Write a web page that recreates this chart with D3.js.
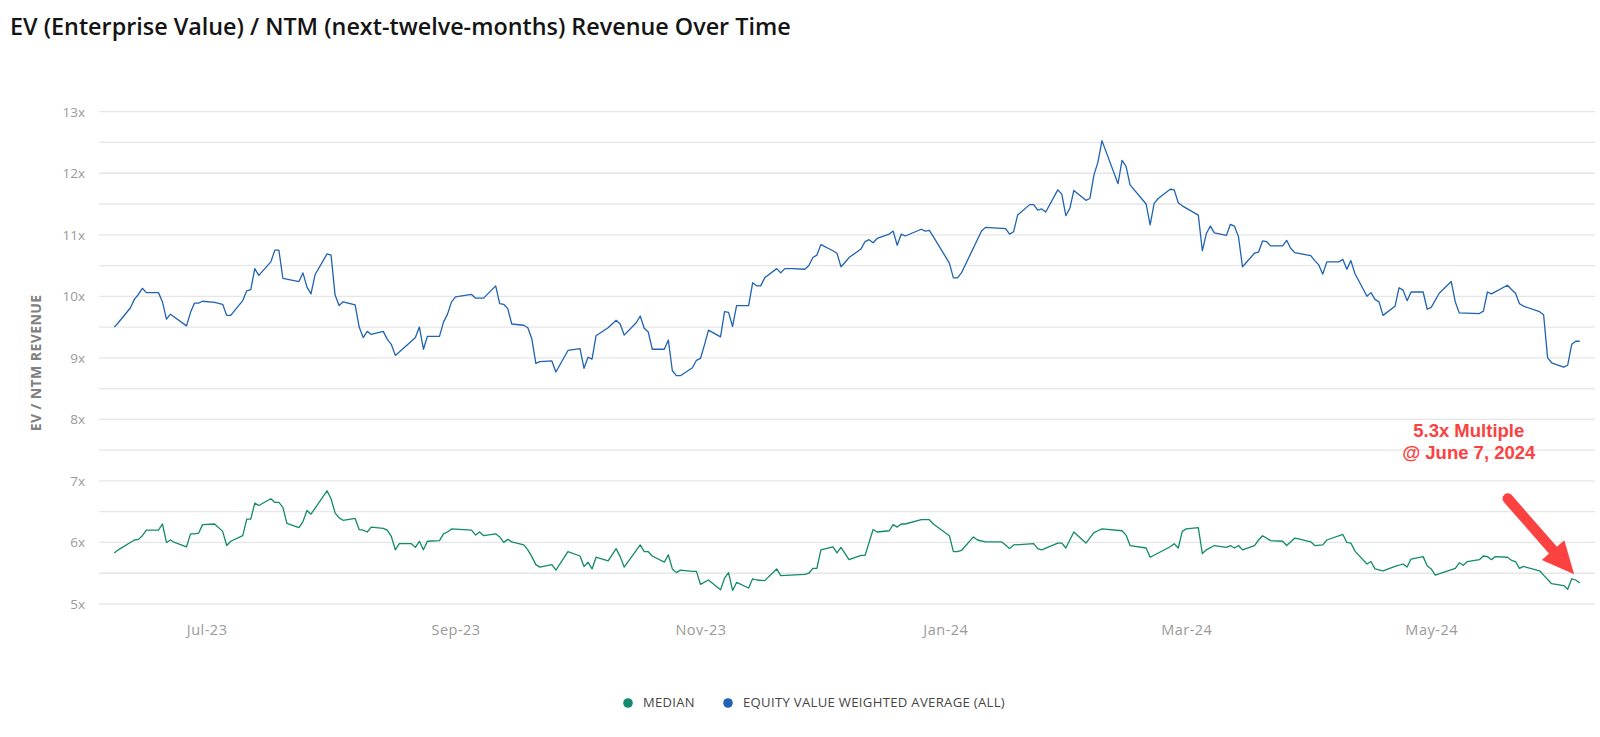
<!DOCTYPE html>
<html>
<head>
<meta charset="utf-8">
<script src="https://cdn.jsdelivr.net/npm/d3@7"></script>
<style>
  html, body { margin: 0; padding: 0; background: #fff; }
  svg { display: block; font-family: 'Open Sans', 'DejaVu Sans', sans-serif; }
</style>
</head>
<body>
<div id="chart"></div>
<script>
const TITLE = 'EV (Enterprise Value) / NTM (next-twelve-months) Revenue Over Time';
const Y_LABEL = 'EV / NTM REVENUE';
const LEGEND = ['MEDIAN', 'EQUITY VALUE WEIGHTED AVERAGE (ALL)'];
const NOTE = ['5.3x Multiple', '@ June 7, 2024'];
const Y_TICKS = [5, 6, 7, 8, 9, 10, 11, 12, 13];

// equity value weighted average (all)
const weighted = [
  ['2023-06-08', 9.50], ['2023-06-09', 9.57], ['2023-06-12', 9.81], ['2023-06-13', 9.95],
  ['2023-06-14', 10.03], ['2023-06-15', 10.13], ['2023-06-16', 10.06], ['2023-06-19', 10.06],
  ['2023-06-20', 9.91], ['2023-06-21', 9.63], ['2023-06-22', 9.71], ['2023-06-26', 9.52],
  ['2023-06-27', 9.74], ['2023-06-28', 9.89], ['2023-06-29', 9.89], ['2023-06-30', 9.92],
  ['2023-07-03', 9.90], ['2023-07-05', 9.87], ['2023-07-06', 9.69], ['2023-07-07', 9.69],
  ['2023-07-10', 9.93], ['2023-07-11', 10.09], ['2023-07-12', 10.11], ['2023-07-13', 10.45],
  ['2023-07-14', 10.34], ['2023-07-17', 10.56], ['2023-07-18', 10.75], ['2023-07-19', 10.75],
  ['2023-07-20', 10.29], ['2023-07-24', 10.24], ['2023-07-25', 10.38], ['2023-07-26', 10.15],
  ['2023-07-27', 10.04], ['2023-07-28', 10.35], ['2023-07-31', 10.69], ['2023-08-01', 10.67],
  ['2023-08-02', 10.02], ['2023-08-03', 9.85], ['2023-08-04', 9.91], ['2023-08-07', 9.86],
  ['2023-08-08', 9.50], ['2023-08-09', 9.33], ['2023-08-10', 9.43], ['2023-08-11', 9.38],
  ['2023-08-14', 9.43], ['2023-08-15', 9.30], ['2023-08-16', 9.22], ['2023-08-17', 9.04],
  ['2023-08-21', 9.27], ['2023-08-22', 9.33], ['2023-08-23', 9.50], ['2023-08-24', 9.14],
  ['2023-08-25', 9.35], ['2023-08-28', 9.35], ['2023-08-29', 9.58], ['2023-08-30', 9.71],
  ['2023-08-31', 9.91], ['2023-09-01', 9.99], ['2023-09-05', 10.03], ['2023-09-06', 9.97],
  ['2023-09-08', 9.97], ['2023-09-11', 10.17], ['2023-09-12', 9.88], ['2023-09-13', 9.87],
  ['2023-09-14', 9.80], ['2023-09-15', 9.55], ['2023-09-18', 9.53], ['2023-09-19', 9.49],
  ['2023-09-20', 9.31], ['2023-09-21', 8.91], ['2023-09-22', 8.94], ['2023-09-25', 8.95],
  ['2023-09-26', 8.77], ['2023-09-29', 9.12], ['2023-10-02', 9.15], ['2023-10-03', 8.83],
  ['2023-10-04', 9.01], ['2023-10-05', 8.98], ['2023-10-06', 9.36], ['2023-10-09', 9.49],
  ['2023-10-11', 9.61], ['2023-10-12', 9.55], ['2023-10-13', 9.37], ['2023-10-16', 9.57],
  ['2023-10-17', 9.68], ['2023-10-18', 9.48], ['2023-10-19', 9.42], ['2023-10-20', 9.14],
  ['2023-10-23', 9.14], ['2023-10-24', 9.29], ['2023-10-25', 8.79], ['2023-10-26', 8.71],
  ['2023-10-27', 8.71], ['2023-10-30', 8.84], ['2023-10-31', 8.96], ['2023-11-01', 8.99],
  ['2023-11-02', 9.21], ['2023-11-03', 9.45], ['2023-11-06', 9.34], ['2023-11-07', 9.75],
  ['2023-11-08', 9.74], ['2023-11-09', 9.51], ['2023-11-10', 9.85], ['2023-11-13', 9.85],
  ['2023-11-14', 10.22], ['2023-11-15', 10.17], ['2023-11-16', 10.17], ['2023-11-17', 10.30],
  ['2023-11-20', 10.45], ['2023-11-21', 10.38], ['2023-11-22', 10.45], ['2023-11-24', 10.45],
  ['2023-11-27', 10.44], ['2023-11-28', 10.50], ['2023-11-29', 10.63], ['2023-11-30', 10.67],
  ['2023-12-01', 10.84], ['2023-12-04', 10.74], ['2023-12-05', 10.70], ['2023-12-06', 10.48],
  ['2023-12-07', 10.55], ['2023-12-08', 10.63], ['2023-12-11', 10.77], ['2023-12-12', 10.89],
  ['2023-12-13', 10.92], ['2023-12-14', 10.87], ['2023-12-15', 10.94], ['2023-12-18', 11.01],
  ['2023-12-19', 11.06], ['2023-12-20', 10.83], ['2023-12-21', 11.01], ['2023-12-22', 10.98],
  ['2023-12-26', 11.09], ['2023-12-27', 11.06], ['2023-12-28', 11.07], ['2023-12-29', 10.97],
  ['2024-01-02', 10.54], ['2024-01-03', 10.30], ['2024-01-04', 10.30], ['2024-01-05', 10.38],
  ['2024-01-10', 11.06], ['2024-01-11', 11.12], ['2024-01-16', 11.10], ['2024-01-17', 11.01],
  ['2024-01-18', 11.05], ['2024-01-19', 11.32], ['2024-01-22', 11.49], ['2024-01-23', 11.49],
  ['2024-01-24', 11.40], ['2024-01-25', 11.42], ['2024-01-26', 11.37], ['2024-01-29', 11.73],
  ['2024-01-30', 11.66], ['2024-01-31', 11.31], ['2024-02-01', 11.43], ['2024-02-02', 11.72],
  ['2024-02-05', 11.56], ['2024-02-06', 11.59], ['2024-02-07', 11.97], ['2024-02-08', 12.18],
  ['2024-02-09', 12.53], ['2024-02-13', 11.83], ['2024-02-14', 12.21], ['2024-02-15', 12.11],
  ['2024-02-16', 11.81], ['2024-02-20', 11.50], ['2024-02-21', 11.16], ['2024-02-22', 11.51],
  ['2024-02-23', 11.59], ['2024-02-26', 11.74], ['2024-02-27', 11.73], ['2024-02-28', 11.52],
  ['2024-02-29', 11.47], ['2024-03-04', 11.32], ['2024-03-05', 10.74], ['2024-03-06', 11.02],
  ['2024-03-07', 11.14], ['2024-03-08', 11.03], ['2024-03-11', 10.99], ['2024-03-12', 11.17],
  ['2024-03-13', 11.14], ['2024-03-14', 10.97], ['2024-03-15', 10.48], ['2024-03-18', 10.70],
  ['2024-03-19', 10.72], ['2024-03-20', 10.90], ['2024-03-21', 10.89], ['2024-03-22', 10.82],
  ['2024-03-25', 10.82], ['2024-03-26', 10.91], ['2024-03-27', 10.78], ['2024-03-28', 10.71],
  ['2024-04-01', 10.66], ['2024-04-02', 10.58], ['2024-04-03', 10.51], ['2024-04-04', 10.36],
  ['2024-04-05', 10.56], ['2024-04-08', 10.56], ['2024-04-09', 10.60], ['2024-04-10', 10.44],
  ['2024-04-11', 10.58], ['2024-04-12', 10.37], ['2024-04-15', 10.00], ['2024-04-16', 10.06],
  ['2024-04-17', 9.95], ['2024-04-18', 9.91], ['2024-04-19', 9.69], ['2024-04-22', 9.84],
  ['2024-04-23', 10.14], ['2024-04-24', 10.10], ['2024-04-25', 9.93], ['2024-04-26', 10.07],
  ['2024-04-29', 10.07], ['2024-04-30', 9.79], ['2024-05-01', 9.82], ['2024-05-03', 10.05],
  ['2024-05-06', 10.24], ['2024-05-07', 9.91], ['2024-05-08', 9.73], ['2024-05-13', 9.72],
  ['2024-05-14', 9.76], ['2024-05-15', 10.07], ['2024-05-16', 10.04], ['2024-05-20', 10.18],
  ['2024-05-21', 10.11], ['2024-05-22', 10.05], ['2024-05-23', 9.88], ['2024-05-24', 9.84],
  ['2024-05-28', 9.75], ['2024-05-29', 9.70], ['2024-05-30', 9.00], ['2024-05-31', 8.92],
  ['2024-06-03', 8.85], ['2024-06-04', 8.88], ['2024-06-05', 9.22], ['2024-06-06', 9.27],
  ['2024-06-07', 9.27]
];

// median
const median = [
  ['2023-06-08', 5.83], ['2023-06-09', 5.88], ['2023-06-12', 6.00], ['2023-06-13', 6.04],
  ['2023-06-14', 6.05], ['2023-06-15', 6.11], ['2023-06-16', 6.20], ['2023-06-19', 6.20],
  ['2023-06-20', 6.30], ['2023-06-21', 6.00], ['2023-06-22', 6.04], ['2023-06-23', 6.00],
  ['2023-06-26', 5.93], ['2023-06-27', 6.14], ['2023-06-28', 6.14], ['2023-06-29', 6.15],
  ['2023-06-30', 6.29], ['2023-07-03', 6.30], ['2023-07-05', 6.18], ['2023-07-06', 5.95],
  ['2023-07-07', 6.02], ['2023-07-10', 6.11], ['2023-07-11', 6.38], ['2023-07-12', 6.38],
  ['2023-07-13', 6.64], ['2023-07-14', 6.60], ['2023-07-17', 6.71], ['2023-07-18', 6.65],
  ['2023-07-19', 6.65], ['2023-07-20', 6.57], ['2023-07-21', 6.31], ['2023-07-24', 6.24],
  ['2023-07-25', 6.34], ['2023-07-26', 6.52], ['2023-07-27', 6.46], ['2023-07-31', 6.84],
  ['2023-08-01', 6.71], ['2023-08-02', 6.48], ['2023-08-03', 6.40], ['2023-08-04', 6.36],
  ['2023-08-07', 6.39], ['2023-08-08', 6.21], ['2023-08-09', 6.20], ['2023-08-10', 6.17],
  ['2023-08-11', 6.25], ['2023-08-14', 6.23], ['2023-08-15', 6.20], ['2023-08-16', 6.10],
  ['2023-08-17', 5.88], ['2023-08-18', 5.98], ['2023-08-21', 5.98], ['2023-08-22', 5.92],
  ['2023-08-23', 6.02], ['2023-08-24', 5.88], ['2023-08-25', 6.02], ['2023-08-28', 6.03],
  ['2023-08-29', 6.14], ['2023-08-30', 6.17], ['2023-08-31', 6.22], ['2023-09-05', 6.20],
  ['2023-09-06', 6.12], ['2023-09-07', 6.17], ['2023-09-08', 6.11], ['2023-09-11', 6.14],
  ['2023-09-12', 6.09], ['2023-09-13', 6.00], ['2023-09-14', 6.05], ['2023-09-15', 6.01],
  ['2023-09-18', 5.96], ['2023-09-19', 5.88], ['2023-09-20', 5.77], ['2023-09-21', 5.64],
  ['2023-09-22', 5.60], ['2023-09-25', 5.64], ['2023-09-26', 5.55], ['2023-09-29', 5.85],
  ['2023-10-02', 5.78], ['2023-10-03', 5.61], ['2023-10-04', 5.68], ['2023-10-05', 5.57],
  ['2023-10-06', 5.76], ['2023-10-09', 5.70], ['2023-10-11', 5.90], ['2023-10-12', 5.77],
  ['2023-10-13', 5.60], ['2023-10-17', 5.96], ['2023-10-18', 5.85], ['2023-10-19', 5.85],
  ['2023-10-20', 5.78], ['2023-10-23', 5.68], ['2023-10-24', 5.80], ['2023-10-25', 5.57],
  ['2023-10-26', 5.51], ['2023-10-27', 5.55], ['2023-10-30', 5.53], ['2023-10-31', 5.53],
  ['2023-11-01', 5.32], ['2023-11-03', 5.39], ['2023-11-06', 5.23], ['2023-11-07', 5.42],
  ['2023-11-08', 5.51], ['2023-11-09', 5.22], ['2023-11-10', 5.35], ['2023-11-13', 5.26],
  ['2023-11-14', 5.41], ['2023-11-15', 5.39], ['2023-11-17', 5.38], ['2023-11-20', 5.57],
  ['2023-11-21', 5.46], ['2023-11-27', 5.48], ['2023-11-28', 5.50], ['2023-11-29', 5.58],
  ['2023-11-30', 5.58], ['2023-12-01', 5.88], ['2023-12-04', 5.93], ['2023-12-05', 5.83],
  ['2023-12-06', 5.92], ['2023-12-08', 5.72], ['2023-12-11', 5.79], ['2023-12-12', 5.79],
  ['2023-12-14', 6.21], ['2023-12-15', 6.17], ['2023-12-18', 6.19], ['2023-12-19', 6.29],
  ['2023-12-20', 6.25], ['2023-12-21', 6.30], ['2023-12-22', 6.30], ['2023-12-26', 6.37],
  ['2023-12-28', 6.37], ['2023-12-29', 6.30], ['2024-01-02', 6.11], ['2024-01-03', 5.85],
  ['2024-01-04', 5.85], ['2024-01-05', 5.87], ['2024-01-08', 6.09], ['2024-01-09', 6.04],
  ['2024-01-11', 6.01], ['2024-01-15', 6.01], ['2024-01-17', 5.90], ['2024-01-18', 5.96],
  ['2024-01-23', 5.98], ['2024-01-24', 5.90], ['2024-01-25', 5.88], ['2024-01-29', 5.99],
  ['2024-01-30', 5.99], ['2024-01-31', 5.91], ['2024-02-02', 6.17], ['2024-02-05', 5.99],
  ['2024-02-07', 6.16], ['2024-02-08', 6.19], ['2024-02-09', 6.22], ['2024-02-14', 6.19],
  ['2024-02-15', 6.12], ['2024-02-16', 5.95], ['2024-02-20', 5.91], ['2024-02-21', 5.76],
  ['2024-02-26', 5.93], ['2024-02-27', 5.98], ['2024-02-28', 5.91], ['2024-02-29', 6.18],
  ['2024-03-01', 6.22], ['2024-03-04', 6.24], ['2024-03-05', 5.82], ['2024-03-06', 5.88],
  ['2024-03-08', 5.95], ['2024-03-11', 5.92], ['2024-03-12', 5.95], ['2024-03-13', 5.91],
  ['2024-03-14', 5.95], ['2024-03-15', 5.88], ['2024-03-18', 5.95], ['2024-03-19', 6.04],
  ['2024-03-20', 6.11], ['2024-03-22', 6.03], ['2024-03-25', 6.02], ['2024-03-26', 5.95],
  ['2024-03-28', 6.07], ['2024-03-29', 6.06], ['2024-04-01', 6.01], ['2024-04-02', 5.95],
  ['2024-04-04', 5.96], ['2024-04-05', 6.04], ['2024-04-09', 6.13], ['2024-04-10', 6.00],
  ['2024-04-11', 5.99], ['2024-04-12', 5.86], ['2024-04-15', 5.65], ['2024-04-16', 5.69],
  ['2024-04-17', 5.57], ['2024-04-19', 5.54], ['2024-04-22', 5.61], ['2024-04-24', 5.65],
  ['2024-04-25', 5.60], ['2024-04-26', 5.73], ['2024-04-29', 5.77], ['2024-04-30', 5.62],
  ['2024-05-01', 5.57], ['2024-05-02', 5.47], ['2024-05-07', 5.58], ['2024-05-08', 5.67],
  ['2024-05-09', 5.63], ['2024-05-10', 5.69], ['2024-05-13', 5.72], ['2024-05-14', 5.78],
  ['2024-05-15', 5.77], ['2024-05-16', 5.72], ['2024-05-17', 5.77], ['2024-05-20', 5.76],
  ['2024-05-21', 5.71], ['2024-05-22', 5.69], ['2024-05-23', 5.58], ['2024-05-24', 5.61],
  ['2024-05-28', 5.54], ['2024-05-29', 5.47], ['2024-05-31', 5.33], ['2024-06-03', 5.30],
  ['2024-06-04', 5.24], ['2024-06-05', 5.41], ['2024-06-06', 5.39], ['2024-06-07', 5.34]
];

const COLORS = { median: '#128a6b', weighted: '#1f63b2' };

const width = 1600;
const height = 737;
const margin = { top: 111.7, right: 5, bottom: 133, left: 99 };

const parse = d3.utcParse('%Y-%m-%d');
const toPoints = (rows) => rows.map(([d, v]) => ({ date: parse(d), value: v }));
const medianPts = toPoints(median);
const weightedPts = toPoints(weighted);

const dayMs = 864e5;
const [first, last] = d3.extent(medianPts.concat(weightedPts), (d) => d.date);
const x = d3.scaleUtc()
  .domain([new Date(+first - 3.8 * dayMs), new Date(+last + 3.8 * dayMs)])
  .range([margin.left, width - margin.right]);
const y = d3.scaleLinear()
  .domain([5, 13])
  .range([height - margin.bottom, margin.top]);

const svg = d3.select('#chart')
  .append('svg')
  .attr('width', width)
  .attr('height', height)
  .attr('viewBox', `0 0 ${width} ${height}`);

// scale a text's font size so it spans the given width
function fitWidth(sel, size, target) {
  sel.attr('font-size', size);
  const w = sel.node().getComputedTextLength();
  sel.attr('font-size', size * target / w);
}

const title = svg.append('text')
  .attr('x', 10)
  .attr('y', 35)
  .attr('fill', '#141414')
  .attr('font-weight', 600)
  .text(TITLE);
fitWidth(title, 19, 781);

// grid every half multiple
const gridVals = d3.range(5, 13.01, 0.5);
svg.append('g')
  .selectAll('line')
  .data(gridVals)
  .join('line')
  .attr('x1', margin.left)
  .attr('x2', width - margin.right)
  .attr('y1', (d) => y(d))
  .attr('y2', (d) => y(d))
  .attr('stroke', '#e6e6e6')
  .attr('stroke-width', 1.3);

// y axis
const yAxis = svg.append('g')
  .attr('transform', 'translate(87,0)')
  .call(d3.axisLeft(y).tickValues(Y_TICKS).tickSize(0).tickPadding(2).tickFormat((d) => `${d}x`));
yAxis.select('.domain').remove();
yAxis.selectAll('text')
  .attr('fill', '#9a9a9a')
  .attr('font-size', 13.5)
  .attr('font-family', "'Open Sans', sans-serif")
  .attr('font-weight', 400);

// x axis
const xAxis = svg.append('g')
  .attr('transform', `translate(0,${y(5) + 18})`)
  .call(d3.axisBottom(x).ticks(d3.utcMonth.every(2)).tickSize(0).tickFormat(d3.utcFormat('%b-%y')));
xAxis.select('.domain').remove();
xAxis.selectAll('text')
  .attr('fill', '#9a9a9a')
  .attr('font-size', 14.5)
  .attr('letter-spacing', 0.5)
  .attr('font-family', "'Open Sans', sans-serif");

const yLabel = svg.append('text')
  .attr('transform', `translate(41,${(y(5) + y(13)) / 2 + 5}) rotate(-90)`)
  .attr('text-anchor', 'middle')
  .attr('fill', '#808080')
  .attr('font-weight', 700)
  .attr('letter-spacing', 0.4)
  .text(Y_LABEL);
fitWidth(yLabel, 12.5, 138);

// series
const line = d3.line()
  .x((d) => x(d.date))
  .y((d) => y(d.value));

svg.append('path')
  .datum(weightedPts)
  .attr('fill', 'none')
  .attr('stroke', COLORS.weighted)
  .attr('stroke-width', 1.3)
  .attr('stroke-linejoin', 'round')
  .attr('d', line);

svg.append('path')
  .datum(medianPts)
  .attr('fill', 'none')
  .attr('stroke', COLORS.median)
  .attr('stroke-width', 1.3)
  .attr('stroke-linejoin', 'round')
  .attr('d', line);

// legend
const legend = svg.append('g').attr('transform', 'translate(628,703)');
const legendItems = [
  { label: LEGEND[0], color: COLORS.median, dx: 0, w: 52 },
  { label: LEGEND[1], color: COLORS.weighted, dx: 100, w: 264 }
];
const li = legend.selectAll('g')
  .data(legendItems)
  .join('g')
  .attr('transform', (d) => `translate(${d.dx},0)`);
li.append('circle').attr('r', 4.8).attr('fill', (d) => d.color);
li.append('text')
  .attr('x', 15)
  .attr('y', 4.4)
  .attr('fill', '#454545')
  .attr('font-weight', 500)
  .attr('letter-spacing', 0.3)
  .text((d) => d.label)
  .each(function (d) { fitWidth(d3.select(this), 11.5, d.w); });

// annotation pointing at the last median value
const lastPt = medianPts[medianPts.length - 1];
const px = x(lastPt.date);
const py = y(lastPt.value);
const red = '#fc4141';
const note = svg.append('g')
  .attr('fill', red)
  .attr('font-family', "'Liberation Sans', Arial, sans-serif")
  .attr('font-weight', 700)
  .attr('font-size', 18.5)
  .attr('text-anchor', 'middle');
note.append('text').attr('x', px - 111).attr('y', py - 146).text(NOTE[0]);
note.append('text').attr('x', px - 111).attr('y', py - 124.5).text(NOTE[1]);

const tail = [px - 72, py - 84.5];
const tip = [px - 5.6, py - 8.8];
const ang = Math.atan2(tip[1] - tail[1], tip[0] - tail[0]);
const headLen = 32;
const headHalf = 15;
const base = [tip[0] - headLen * Math.cos(ang), tip[1] - headLen * Math.sin(ang)];
svg.append('line')
  .attr('x1', tail[0]).attr('y1', tail[1])
  .attr('x2', base[0] + 3 * Math.cos(ang)).attr('y2', base[1] + 3 * Math.sin(ang))
  .attr('stroke', red)
  .attr('stroke-width', 10.5)
  .attr('stroke-linecap', 'round');
svg.append('polygon')
  .attr('fill', red)
  .attr('points', [
    tip,
    [base[0] + headHalf * Math.sin(ang), base[1] - headHalf * Math.cos(ang)],
    [base[0] - headHalf * Math.sin(ang), base[1] + headHalf * Math.cos(ang)]
  ].map((p) => p.join(',')).join(' '));
</script>
</body>
</html>
